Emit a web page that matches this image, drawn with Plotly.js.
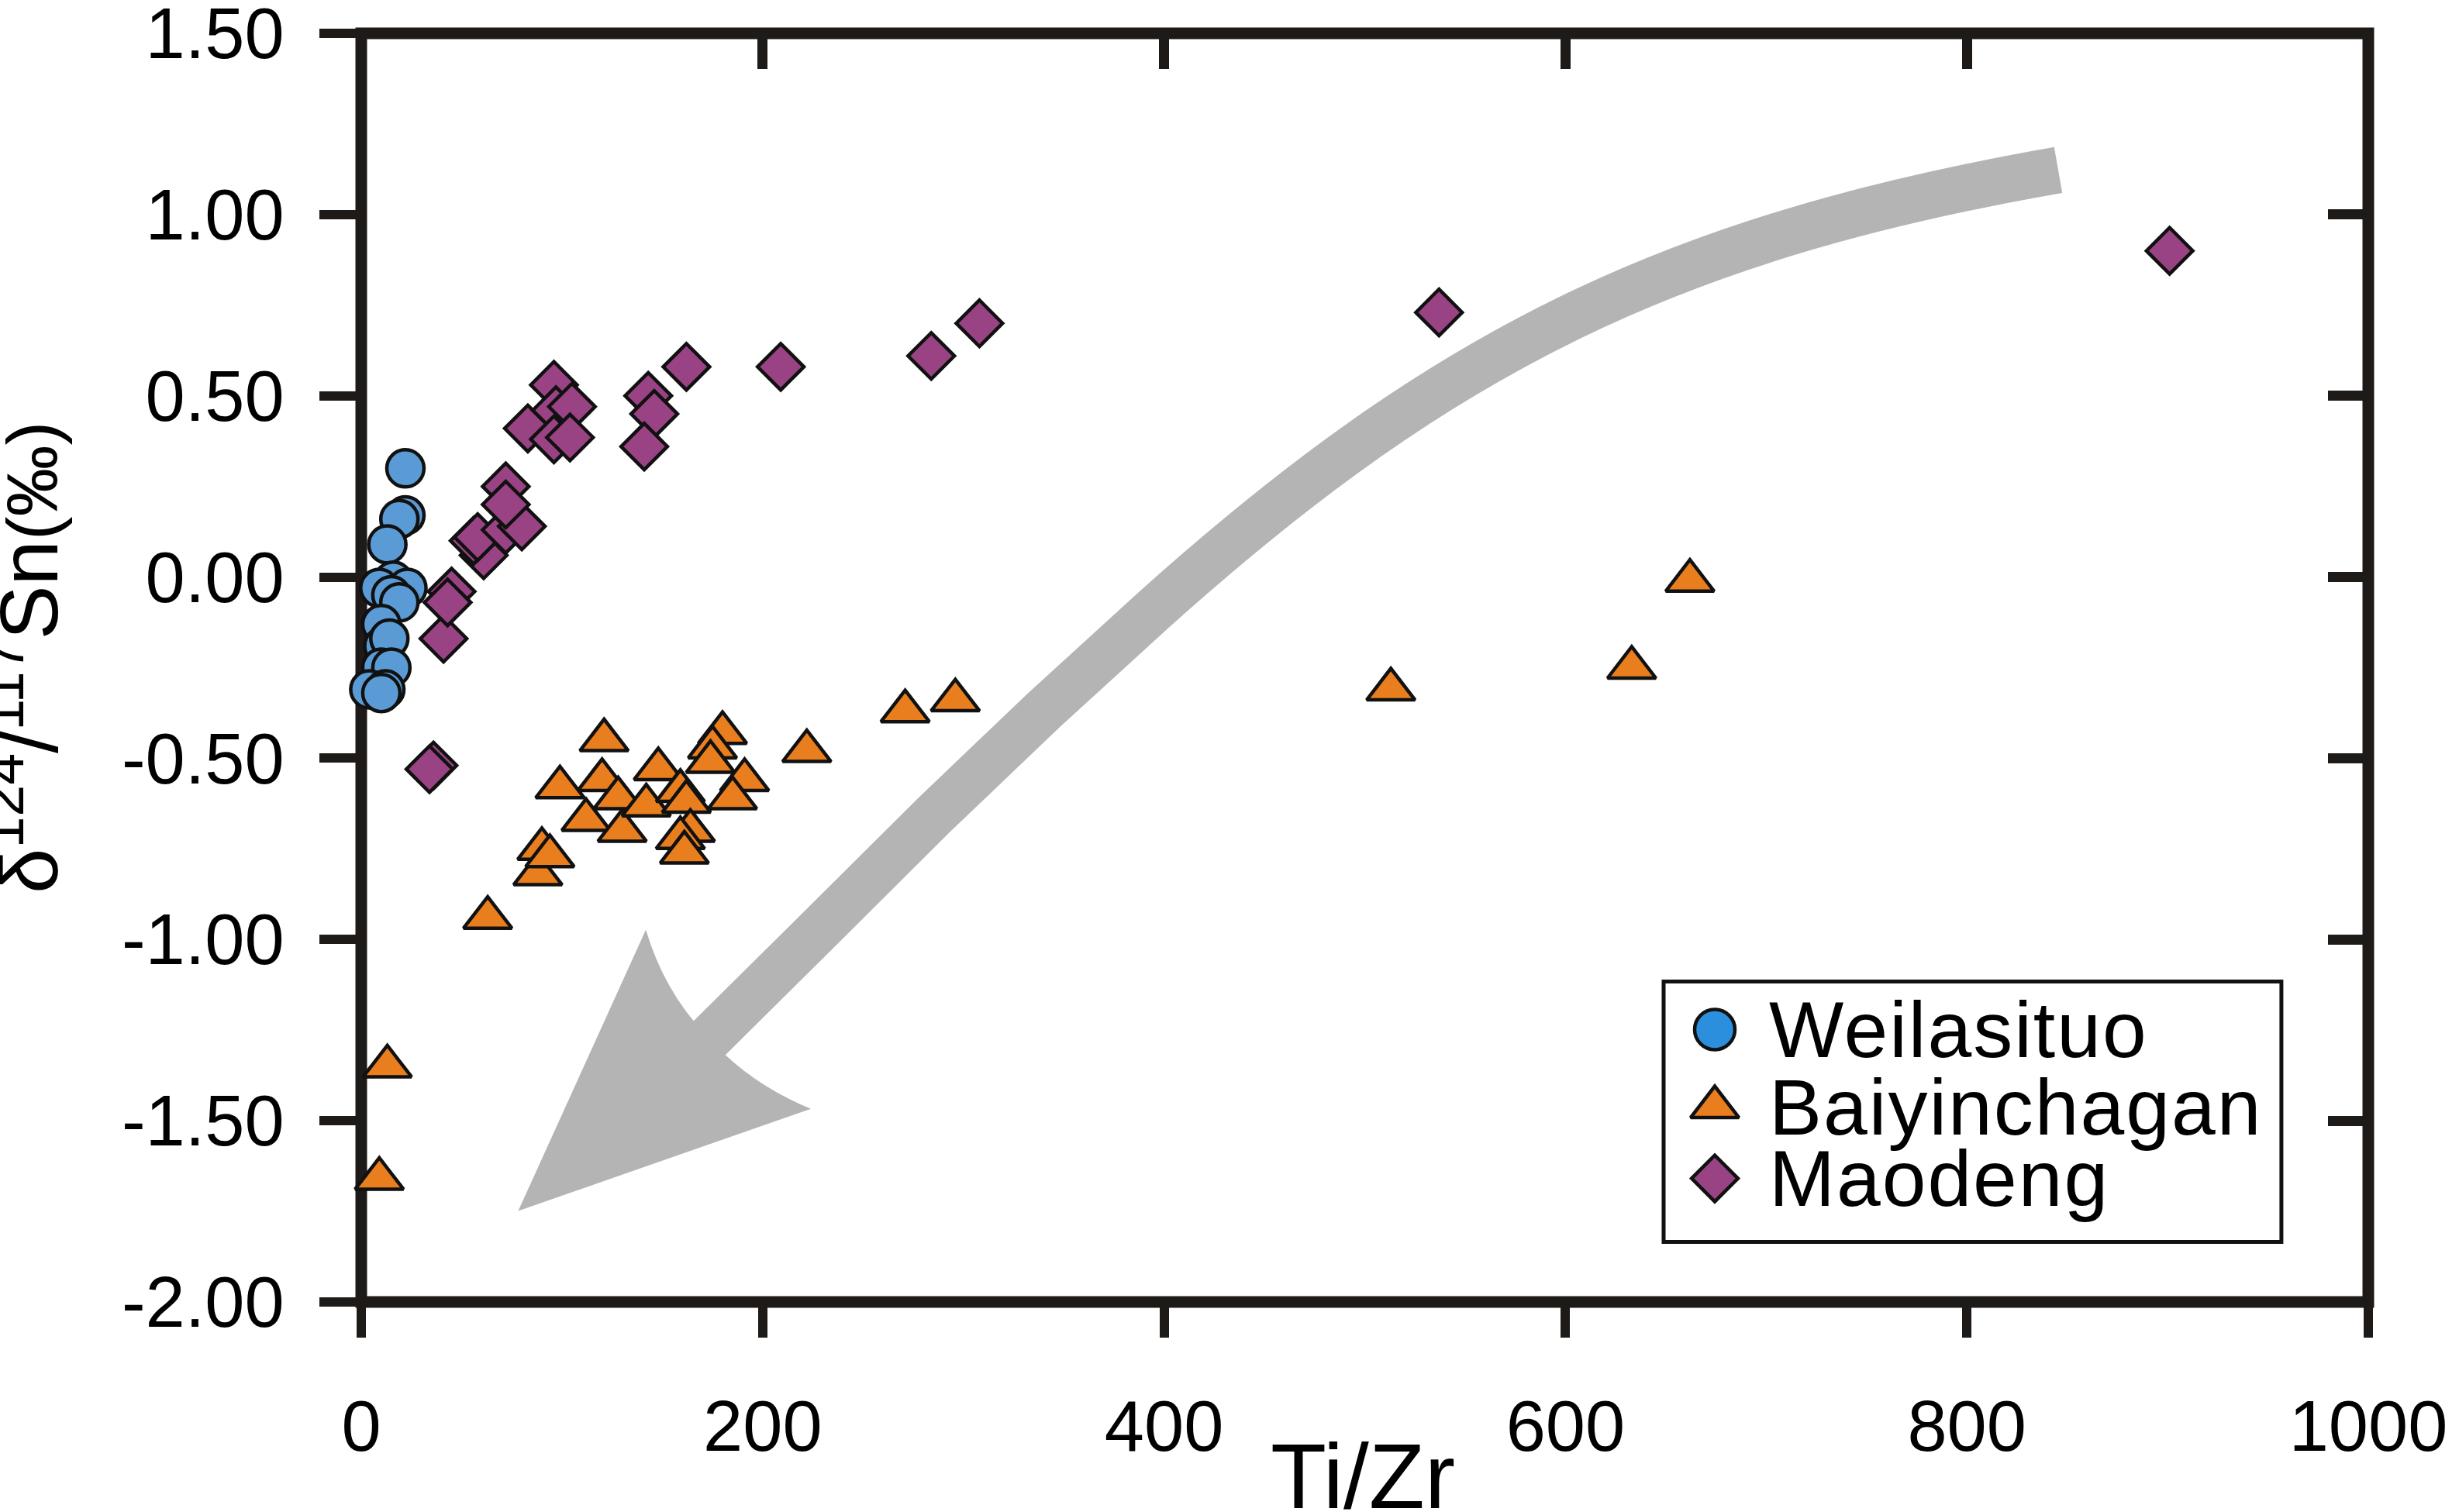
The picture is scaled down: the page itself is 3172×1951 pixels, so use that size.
<!DOCTYPE html>
<html>
<head>
<meta charset="utf-8">
<script src="https://cdn.plot.ly/plotly-3.0.1.min.js"></script>
<style>
  html, body { margin: 0; padding: 0; background: #ffffff; }
  #chart { width: 3172px; height: 1951px; }
  #chart .legendtext-trace text { letter-spacing: 2px; }
</style>
</head>
<body>
<div id="chart"></div>
<script>
// ---------------- data ----------------
const weilasituoX = [22, 22, 19, 13, 16, 23, 9, 15, 19, 10, 11, 14, 10, 15, 4, 12, 10];
const weilasituoY = [0.30, 0.17, 0.16, 0.09, -0.01, -0.03, -0.03, -0.05, -0.07, -0.13, -0.19, -0.17, -0.25, -0.25, -0.31, -0.31, -0.32];

const baiyinchaganX = [13, 9, 63, 88, 90, 94, 99, 121, 120, 112, 128, 130, 148, 142, 159, 162, 164, 159, 161, 180, 175, 174, 191, 185, 222, 271, 296, 513, 633, 662];
const baiyinchaganY = [-1.35, -1.66, -0.94, -0.82, -0.75, -0.77, -0.58, -0.45, -0.56, -0.67, -0.61, -0.70, -0.53, -0.63, -0.59, -0.62, -0.70, -0.72, -0.76, -0.43, -0.47, -0.51, -0.56, -0.61, -0.48, -0.37, -0.34, -0.31, -0.25, -0.01];

const maodengX = [36, 34, 41, 45, 43, 61, 56, 58, 72, 80, 72, 72, 83, 96, 97, 105, 96, 104, 143, 146, 141, 162, 209, 284, 308, 537, 901];
const maodengY = [-0.52, -0.53, -0.17, -0.04, -0.07, 0.06, 0.10, 0.11, 0.13, 0.14, 0.25, 0.20, 0.41, 0.53, 0.46, 0.47, 0.38, 0.385, 0.50, 0.45, 0.36, 0.58, 0.58, 0.61, 0.70, 0.73, 0.90];

const seriesNames = ['Weilasituo', 'Baiyinchagan', 'Maodeng'];

const xTickVals = [0, 200, 400, 600, 800, 1000];
const xTickText = ['0', '200', '400', '600', '800', '1000'];
const yTickVals = [-2, -1.5, -1, -0.5, 0, 0.5, 1, 1.5];
const yTickText = ['-2.00', '-1.50', '-1.00', '-0.50', '0.00', '0.50', '1.00', '1.50'];

const xTitle = 'Ti/Zr';
const yTitle = 'δ<sup>124</sup>/<sup>117</sup>Sn<span style="font-size:92px">(‰)</span>';

// ---------------- styling ----------------
const FONT = '"Liberation Sans", Arial, Helvetica, sans-serif';
const INK = '#1d1a17';
const seriesColors = ['#5B9BD5', '#E87E1E', '#9A4384'];
const legendColors = ['#2B8FDD', '#E87E1E', '#9A4384'];
const seriesSymbols = ['circle', 'triangle-up', 'diamond'];
const seriesSizes = [48, 54, 46];
const outline = { color: '#111111', width: 4.5 };

// decorative trend arrow (grey band: start, two Bezier handles, then straight run into the head; data units)
const arrowCurve = { start: [845.5, 1.123], c1: [653.2, 0.936], c2: [539.2, 0.629], end: [394.0, -0.095] };
const arrowRunX = [340.0, 285.5, 232.0, 169.6];
const arrowRunY = [-0.368, -0.656, -0.951, -1.293];
const arrowHead = { tip: [78.2, -1.749], left: [141.8, -0.973], lc: [151.3, -1.148], notch: [172.3, -1.266], rc: [192.5, -1.395], right: [224.0, -1.467] };

// legend layout (pixel units inside the legend box)
const legendBox = { w: 797, h: 336, domX: [0.6489, 0.9567], domY: [0.0473, 0.2526] };
const legendSymX = 66, legendTextX = 136;
const legendRowY = [62, 162, 254];

// ---------------- build ----------------
function markerTrace(name, xs, ys, i) {
  return {
    type: 'scatter', mode: 'markers', name: name, x: xs, y: ys,
    cliponaxis: false, hoverinfo: 'x+y+name',
    marker: { symbol: seriesSymbols[i], size: seriesSizes[i], color: seriesColors[i], opacity: 1, line: outline }
  };
}

const traces = [
  markerTrace(seriesNames[1], baiyinchaganX, baiyinchaganY, 1),
  markerTrace(seriesNames[2], maodengX, maodengY, 2),
  markerTrace(seriesNames[0], weilasituoX, weilasituoY, 0),
  // carrier for the inward mirrored ticks (top / right)
  { type: 'scatter', mode: 'markers', x: [], y: [], xaxis: 'x2', yaxis: 'y2', hoverinfo: 'skip', showlegend: false },
  // legend keys
  {
    type: 'scatter', mode: 'markers', xaxis: 'x3', yaxis: 'y3', hoverinfo: 'skip', cliponaxis: false,
    x: legendRowY.map(() => legendSymX), y: legendRowY,
    marker: { symbol: seriesSymbols, size: [52, 54, 46], color: legendColors, opacity: 1, line: outline }
  },
  {
    type: 'scatter', mode: 'text', xaxis: 'x3', yaxis: 'y3', hoverinfo: 'skip', cliponaxis: false,
    x: legendRowY.map(() => legendTextX), y: legendRowY.map(v => v + 10),
    text: seriesNames, textposition: 'middle right',
    textfont: { family: FONT, size: 102, color: '#000000' }
  }
];

const ac = arrowCurve;
let bandPath = 'M' + ac.start.join(',') + ' C' + ac.c1.join(',') + ' ' + ac.c2.join(',') + ' ' + ac.end.join(',');
for (let i = 0; i < arrowRunX.length; i++) bandPath += ' L' + arrowRunX[i] + ',' + arrowRunY[i];
const h = arrowHead;
const headPath = 'M' + h.tip.join(',') + ' L' + h.left.join(',') + ' Q' + h.lc.join(',') + ' ' + h.notch.join(',') +
  ' Q' + h.rc.join(',') + ' ' + h.right.join(',') + ' Z';

const commonAxis = {
  showgrid: false, zeroline: false, fixedrange: true, automargin: false,
  tickcolor: INK, layer: 'below traces', showline: false, ticklabeloverflow: 'allow'
};

const layout = {
  width: 3172, height: 1951,
  margin: { l: 466, r: 117, t: 43, b: 271, pad: 0 },
  paper_bgcolor: '#ffffff', plot_bgcolor: 'rgba(0,0,0,0)',
  showlegend: false,
  font: { family: FONT, color: '#000000' },
  xaxis: Object.assign({}, commonAxis, {
    range: [0, 1000], tickmode: 'array', tickvals: xTickVals, ticktext: xTickText,
    ticks: 'outside', ticklen: 45, tickwidth: 12,
    tickfont: { family: FONT, size: 92, color: '#000000' }, ticklabelstandoff: 36
  }),
  yaxis: Object.assign({}, commonAxis, {
    range: [-2, 1.5], tickmode: 'array', tickvals: yTickVals, ticktext: yTickText,
    ticks: 'outside', ticklen: 53, tickwidth: 12,
    tickfont: { family: FONT, size: 92, color: '#000000' }, ticklabelstandoff: 27
  }),
  xaxis2: Object.assign({}, commonAxis, {
    overlaying: 'x', side: 'top', anchor: 'y2', range: [0, 1000],
    tickmode: 'array', tickvals: xTickVals, ticks: 'inside', ticklen: 46, tickwidth: 13,
    showticklabels: false
  }),
  yaxis2: Object.assign({}, commonAxis, {
    overlaying: 'y', side: 'right', anchor: 'x2', range: [-2, 1.5],
    tickmode: 'array', tickvals: yTickVals, ticks: 'inside', ticklen: 52, tickwidth: 13,
    showticklabels: false
  }),
  xaxis3: { domain: legendBox.domX, range: [0, legendBox.w], visible: false, anchor: 'y3', fixedrange: true },
  yaxis3: { domain: legendBox.domY, range: [legendBox.h, 0], visible: false, anchor: 'x3', fixedrange: true },
  // axis titles (placed as annotations so they can sit at the page edge like the reference)
  annotations: [
    { xref: 'paper', yref: 'paper', x: 0.499, y: -0.096, xanchor: 'center', yanchor: 'top',
      text: xTitle, showarrow: false, font: { family: FONT, size: 118, color: '#000000' } },
    { xref: 'paper', yref: 'paper', x: -0.1421, y: 0.508, xanchor: 'right', yanchor: 'middle',
      textangle: -90, text: yTitle, showarrow: false, font: { family: FONT, size: 105, color: '#000000' } }
  ],
  shapes: [
    { type: 'path', xref: 'x', yref: 'y', layer: 'below', path: bandPath,
      line: { color: '#B4B4B4', width: 60 }, fillcolor: 'rgba(0,0,0,0)' },
    { type: 'path', xref: 'x', yref: 'y', layer: 'below', path: headPath,
      line: { width: 0 }, fillcolor: '#B4B4B4' },
    // plot frame, centred on the plot-area edges
    { type: 'rect', xref: 'x domain', yref: 'y domain', x0: 0, x1: 1, y0: 0, y1: 1,
      line: { color: INK, width: 15 }, fillcolor: 'rgba(0,0,0,0)', layer: 'below' },
    // legend box
    { type: 'rect', xref: 'x3 domain', yref: 'y3 domain', x0: 0, x1: 1, y0: 0, y1: 1,
      line: { color: '#111111', width: 5 }, fillcolor: 'rgba(0,0,0,0)', layer: 'above' }
  ]
};

Plotly.newPlot('chart', traces, layout, { staticPlot: true, displayModeBar: false }).then(function (gd) {
  // tag the legend-label text trace so its letter spacing can follow the reference
  const groups = gd.querySelectorAll('.scatterlayer .trace');
  const last = groups[groups.length - 1];
  if (last) last.classList.add('legendtext-trace');
});
</script>
</body>
</html>
